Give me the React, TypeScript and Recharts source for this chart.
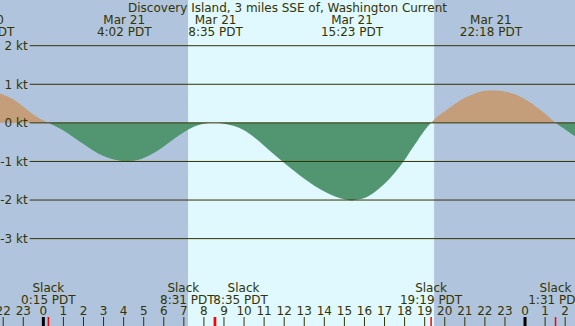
import React from "react";
import { ComposedChart, Area, XAxis, YAxis, ReferenceArea, ReferenceLine } from "recharts";

const W = 575;
const H = 326;
const FONT = "'DejaVu Sans', sans-serif";
const INK = "#333300";

// hours counted from Mar 21 00:00 PDT
const TIME_DOMAIN: [number, number] = [-2.16, 26.49];
const KT_DOMAIN: [number, number] = [-5.29, 3.21];

// current speed in knots (flood +, ebb -)
const hours = [
  -2.16, -2.0, -1.5, -1.0, -0.5, 0.0, 0.25,
  0.5, 1.0, 1.5, 2.0, 2.5, 3.0, 3.5, 4.03,
  4.5, 5.0, 5.5, 6.0, 6.5, 7.0, 7.5, 8.0, 8.5,
  9.0, 9.5, 10.0, 10.5, 11.0, 11.5, 12.0, 12.5, 13.0, 13.5, 14.0, 14.5, 15.0, 15.38,
  15.5, 16.0, 16.5, 17.0, 17.5, 18.0, 18.5, 19.0, 19.32,
  19.5, 20.0, 20.5, 21.0, 21.5, 22.0, 22.3,
  22.5, 23.0, 23.5, 24.0, 24.5, 25.0, 25.52, 26.0, 26.49,
];
const knots = [
  0.76, 0.73, 0.61, 0.42, 0.22, 0.06, 0,
  -0.06, -0.2, -0.37, -0.55, -0.72, -0.86, -0.95, -0.99,
  -0.98, -0.91, -0.78, -0.61, -0.42, -0.24, -0.1, -0.02, 0,
  -0.02, -0.08, -0.19, -0.37, -0.59, -0.82, -1.04, -1.25, -1.45, -1.63, -1.78, -1.9, -1.98, -2.01,
  -2.0, -1.95, -1.8, -1.58, -1.3, -0.96, -0.57, -0.19, 0,
  0.1, 0.3, 0.49, 0.65, 0.76, 0.83, 0.84,
  0.84, 0.81, 0.74, 0.61, 0.44, 0.24, 0, -0.17, -0.35,
];

const hourTicks = [-2, -1, 0, 1, 2, 3, 4, 5, 6, 7, 8, 9, 10, 11, 12, 13, 14, 15, 16, 17, 18, 19, 20, 21, 22, 23, 24, 25, 26];
const ktLines = [2, 1, 0, -1, -2, -3];
const GRID_START = -0.68;

const sunrise = 7.21;
const sunset = 19.47;

const extremeHours = [-3.0, 4.03, 8.58, 15.38, 22.3];
const extremeDates = ["Mar 20", "Mar 21", "Mar 21", "Mar 21", "Mar 21"];
const extremeTimes = ["21:00 PDT", "4:02 PDT", "8:35 PDT", "15:23 PDT", "22:18 PDT"];

const slackHours = [0.25, 8.52, 8.58, 19.32, 25.52];
const slackTimes = ["0:15 PDT", "8:31 PDT", "8:35 PDT", "19:19 PDT", "1:31 PDT"];

const data = hours.map((t, i) => ({ t, v: knots[i] }));
const vMax = Math.max(...knots);
const vMin = Math.min(...knots);
const zeroOffset = vMax / (vMax - vMin);

const bottomTicks = [...hourTicks, ...slackHours].sort((a, b) => a - b);

// the two slacks at 8:31 / 8:35 are pushed apart so they don't collide
const slackShift = (i: number) => {
  if (i === 1) return { head: -31, time: -27 };
  if (i === 2) return { head: 28, time: 25 };
  return { head: 0, time: 0 };
};

function BottomTick(props: any) {
  const { x, y, payload } = props;
  const si = slackHours.indexOf(payload.value);
  if (si >= 0) {
    const s = slackShift(si);
    return (
      <g>
        <line x1={x} x2={x} y1={y} y2={y + 9} stroke="#ff0000" strokeWidth={1.5} />
        <text x={x + s.head} y={y - 25} textAnchor="middle" fill={INK} fontSize={12} fontFamily={FONT}>
          Slack
        </text>
        <text x={x + s.time} y={y - 13} textAnchor="middle" fill={INK} fontSize={12} fontFamily={FONT}>
          {slackTimes[si]}
        </text>
      </g>
    );
  }
  const h = ((payload.value % 24) + 24) % 24;
  const midnight = h === 0;
  return (
    <g>
      <line x1={x} x2={x} y1={y} y2={y + 9} stroke={midnight ? "#000" : INK} strokeWidth={midnight ? 3 : 1} />
      <text x={x} y={y - 2} textAnchor="middle" fill={INK} fontSize={12} fontFamily={FONT}>
        {h}
      </text>
    </g>
  );
}

function ExtremeTick(props: any) {
  const { x, y, payload } = props;
  const i = extremeHours.indexOf(payload.value);
  return (
    <g>
      <text x={x} y={y + 24} textAnchor="middle" fill={INK} fontSize={12} fontFamily={FONT}>
        {extremeDates[i]}
      </text>
      <text x={x} y={y + 36} textAnchor="middle" fill={INK} fontSize={12} fontFamily={FONT}>
        {extremeTimes[i]}
      </text>
    </g>
  );
}

export default function App() {
  return (
    <div style={{ position: "absolute", left: 0, top: 0, width: W, height: H, fontFamily: FONT }}>
      <ComposedChart width={W} height={H} data={data} margin={{ top: -1, right: 0, bottom: -1, left: 0 }}>
        <defs>
          <linearGradient id="flowSplit" x1="0" y1="0" x2="0" y2="1">
            <stop offset={0} stopColor="#c49e7a" />
            <stop offset={zeroOffset} stopColor="#c49e7a" />
            <stop offset={zeroOffset} stopColor="#519671" />
            <stop offset={1} stopColor="#519671" />
          </linearGradient>
        </defs>

        <ReferenceArea x1={TIME_DOMAIN[0]} x2={sunrise} fill="#b0c4de" fillOpacity={1} stroke="none" />
        <ReferenceArea x1={sunrise} x2={sunset} fill="#e0f8ff" fillOpacity={1} stroke="none" />
        <ReferenceArea x1={sunset} x2={TIME_DOMAIN[1]} fill="#b0c4de" fillOpacity={1} stroke="none" />

        {ktLines.map((k) => (
          <ReferenceLine
            key={k}
            segment={[
              { x: GRID_START, y: k },
              { x: TIME_DOMAIN[1], y: k },
            ]}
            stroke={INK}
            strokeWidth={1}
            label={{ value: `${k} kt`, position: "left", offset: 2, fill: INK, fontSize: 12, fontFamily: FONT }}
          />
        ))}

        <Area
          type="monotone"
          dataKey="v"
          baseValue={0}
          stroke="none"
          fill="url(#flowSplit)"
          fillOpacity={1}
          isAnimationActive={false}
          dot={false}
          activeDot={false}
        />

        <XAxis
          type="number"
          dataKey="t"
          domain={TIME_DOMAIN}
          allowDataOverflow
          ticks={bottomTicks}
          interval={0}
          mirror
          height={1}
          tickSize={10}
          tickMargin={0}
          tickLine={false}
          axisLine={false}
          tick={BottomTick}
        />
        <XAxis
          xAxisId="ext"
          orientation="top"
          type="number"
          dataKey="t"
          domain={TIME_DOMAIN}
          allowDataOverflow
          ticks={extremeHours}
          interval={0}
          mirror
          height={1}
          tickSize={1}
          tickMargin={0}
          tickLine={false}
          axisLine={false}
          tick={ExtremeTick}
        />
        <YAxis type="number" domain={KT_DOMAIN} allowDataOverflow hide />
      </ComposedChart>
      <div
        style={{
          position: "absolute",
          left: 0,
          top: 1,
          width: W,
          textAlign: "center",
          fontSize: 12,
          lineHeight: "14px",
          color: INK,
          pointerEvents: "none",
        }}
      >
        Discovery Island, 3 miles SSE of, Washington Current
      </div>
    </div>
  );
}
